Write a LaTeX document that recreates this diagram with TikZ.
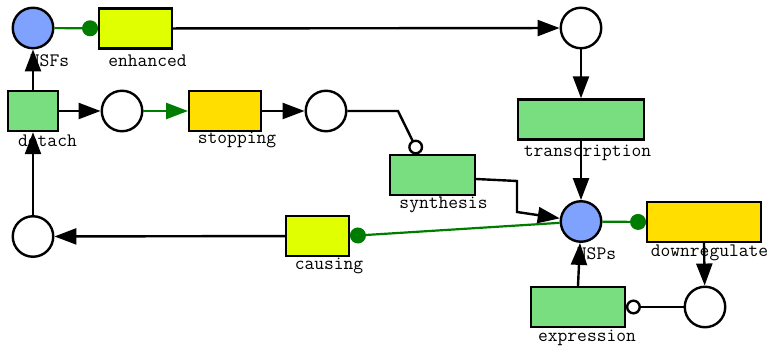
\documentclass[tikz,border=0pt]{standalone}
\usepackage{fontspec}
\usetikzlibrary{arrows.meta}
\definecolor{pblue}{RGB}{128,162,255}
\definecolor{tgreen}{RGB}{120,222,128}
\definecolor{tyellow}{RGB}{224,255,0}
\definecolor{tgold}{RGB}{255,222,0}
\definecolor{agreen}{RGB}{0,125,0}
\begin{document}
\begin{tikzpicture}[x=1pt,y=-1pt,
  place/.style={circle,draw,line width=2.4pt,minimum size=40.5pt,inner sep=0pt,fill=white},
  trans/.style={rectangle,draw,line width=2.4pt,minimum height=40pt,inner sep=0pt},
  lbl/.style={anchor=base,inner sep=0pt,font=\fontsize{19}{20}\selectfont\ttfamily},
  arc/.style={line width=2.4pt,-{Triangle[length=22pt,width=16pt]}},
  garc/.style={line width=2.4pt,agreen,-{Triangle[length=22pt,width=16pt]}},
  readarc/.style={line width=2.2pt,agreen,-{Circle[length=16pt]}},
  inhib/.style={line width=2.4pt,-{Circle[open,length=15pt,fill=white]}}]
\useasboundingbox (0,0) rectangle (769,352);
% labels
\node[lbl] (lNSFs) at (49.5,67) {NSFs};
\node[lbl] (lenh) at (147.5,67) {enhanced};
\node[lbl] (ldet) at (47.5,147) {detach};
\node[lbl] (lstop) at (237,144) {stopping};
\node[lbl] (ltrans) at (587.5,157) {transcription};
\node[lbl] (lsyn) at (443.5,209) {synthesis};
\node[lbl] (ldown) at (709.5,257) {downregulate};
\node[lbl] (lNSPs) at (596.5,260) {NSPs};
\node[lbl] (lcaus) at (329,270) {causing};
\node[lbl] (lexpr) at (587,342) {expression};
% places
\node[place,fill=pblue] (NSFs) at (33,28) {};
\node[place] (p1) at (581,28) {};
\node[place] (p2) at (122,111) {};
\node[place] (p3) at (326,111) {};
\node[place] (p4) at (33,236.5) {};
\node[place,fill=pblue] (NSPs) at (581,221.5) {};
\node[place] (p5) at (705,307) {};
% transitions
\node[trans,fill=tyellow,minimum width=72.5pt] (enhanced) at (135.5,28.5) {};
\node[trans,fill=tgreen,minimum width=50.5pt] (detach) at (33,111) {};
\node[trans,fill=tgold,minimum width=71.5pt] (stopping) at (225,111) {};
\node[trans,fill=tgreen,minimum width=84.5pt] (synthesis) at (432.5,175) {};
\node[trans,fill=tgreen,minimum width=125.5pt] (transcription) at (581,119.5) {};
\node[trans,fill=tgold,minimum width=113.5pt] (downregulate) at (704,222) {};
\node[trans,fill=tyellow,minimum width=62.5pt] (causing) at (317.5,236) {};
\node[trans,fill=tgreen,minimum width=93.5pt] (expression) at (578,307) {};
% bend points
\coordinate (s1) at (517,181);
\coordinate (s2) at (517,212);
\coordinate (i1) at (398,111);
% arcs
\draw[readarc] (NSFs) -- (enhanced);
\draw[arc] (enhanced) -- (p1);
\draw[arc] (p1) -- (transcription);
\draw[arc] (transcription) -- (NSPs);
\draw[arc] ([yshift=-4pt]synthesis.east) -- (s1) -- (s2) -- (NSPs);
\draw[readarc] (NSPs) -- (causing.east);
\draw[readarc] (NSPs) -- (downregulate.west);
\draw[arc] (downregulate.south) -- (p5);
\draw[inhib] (p5) -- (expression.east);
\draw[arc] (expression.north) -- (NSPs);
\draw[arc] (causing) -- (p4);
\draw[arc] (p4) -- (detach);
\draw[arc] (detach) -- (NSFs);
\draw[arc] (detach) -- (p2);
\draw[garc] (p2) -- (stopping);
\draw[arc] (stopping) -- (p3);
\draw[inhib] (p3) -- (i1) -- ([xshift=-13.5pt]synthesis.north);
\end{tikzpicture}
\end{document}
